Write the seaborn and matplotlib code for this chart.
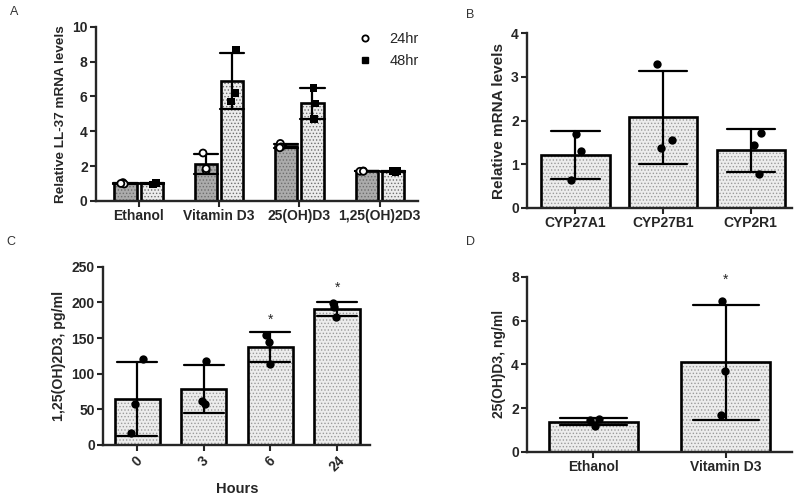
import numpy as np
import pandas as pd
import seaborn as sns
import matplotlib.pyplot as plt
import matplotlib.colors as mcolors
from matplotlib.lines import Line2D

# panel A: LL-37 mRNA, three replicates per group
a_groups = ['Ethanol', 'Vitamin D3', '25(OH)D3', '1,25(OH)2D3']
a_times = ['24hr', '48hr']
a_24 = [[1.05, 0.97, 1.0], [2.75, 1.75, 1.85], [3.3, 3.1, 3.05], [1.72, 1.7, 1.7]]
a_48 = [[1.05, 0.95, 1.0], [8.7, 5.7, 6.2], [6.5, 5.6, 4.7], [1.7, 1.65, 1.72]]

# panel B: CYP genes
b_genes = ['CYP27A1', 'CYP27B1', 'CYP2R1']
b_vals = [[1.7, 1.3, 0.63], [3.3, 1.38, 1.55], [1.72, 1.45, 0.77]]

# panel C: 1,25(OH)2D3 over time
c_hours = ['0', '3', '6', '24']
c_vals = [[120, 57, 17], [118, 57, 62], [155, 144, 114], [199, 194, 180]]
c_star = [None, None, 175, 220]

# panel D: 25(OH)D3
d_groups = ['Ethanol', 'Vitamin D3']
d_vals = [[1.5, 1.2, 1.45], [6.9, 3.7, 1.7]]
d_star = [None, 7.85]


def long_df(cats, vals, col='cat'):
    rows = []
    for c, vs in zip(cats, vals):
        for v in vs:
            rows.append({col: c, 'value': v})
    return pd.DataFrame(rows)


def stipple(ax, dots):
    # dotted fill like the original prism bars
    for p in ax.patches:
        p.set_hatch('.....')
        if hasattr(p, 'set_hatchcolor'):
            p.set_hatchcolor(dots)
        else:
            p._hatch_color = mcolors.to_rgba(dots)


dfa = pd.concat([long_df(a_groups, a_24, 'group').assign(time='24hr'),
                 long_df(a_groups, a_48, 'group').assign(time='48hr')])
dfb = long_df(b_genes, b_vals)
dfc = long_df(c_hours, c_vals)
dfd = long_df(d_groups, d_vals)

sns.set_style('ticks')
plt.rcParams['font.family'] = ['Liberation Sans', 'DejaVu Sans']
plt.rcParams['font.weight'] = 'bold'
plt.rcParams['axes.linewidth'] = 1.7
plt.rcParams['xtick.major.width'] = 1.5
plt.rcParams['ytick.major.width'] = 1.5
plt.rcParams['xtick.major.size'] = 4
plt.rcParams['ytick.major.size'] = 4
plt.rcParams['hatch.linewidth'] = 0.6

np.random.seed(3)
fig = plt.figure(figsize=(8, 4.96), dpi=100)
axA = fig.add_axes([0.12, 0.595, 0.402, 0.351])
axB = fig.add_axes([0.659, 0.581, 0.331, 0.352])
axC = fig.add_axes([0.129, 0.103, 0.334, 0.359])
axD = fig.add_axes([0.659, 0.089, 0.331, 0.353])

bar_kw = dict(edgecolor='black', linewidth=1.9, errorbar='sd',
              err_kws={'color': 'black', 'linewidth': 1.6})
light = '#ececec'

# A
sns.barplot(data=dfa, x='group', y='value', hue='time', order=a_groups, hue_order=a_times,
            palette={'24hr': '#ababab', '48hr': '#ececec'}, width=0.65, gap=0.15,
            capsize=0.6, legend=False, ax=axA, **bar_kw)
stipple(axA, '#6e6e6e')
sns.stripplot(data=dfa[dfa.time == '24hr'], x='group', y='value', hue='time', order=a_groups,
              hue_order=a_times, palette={'24hr': 'white', '48hr': 'black'}, dodge=True,
              jitter=0.1, marker='o', size=5, linewidth=1.3, edgecolor='black',
              legend=False, ax=axA)
sns.stripplot(data=dfa[dfa.time == '48hr'], x='group', y='value', hue='time', order=a_groups,
              hue_order=a_times, palette={'24hr': 'white', '48hr': 'black'}, dodge=True,
              jitter=0.1, marker='s', size=5.5, linewidth=0, legend=False, ax=axA)
axA.set_ylim(0, 10)
axA.set_yticks(range(0, 11, 2))
axA.set_xlim(-0.53, 3.47)
axA.set_ylabel('Relative LL-37 mRNA levels', fontsize=9.7, fontweight='bold')
handles = [Line2D([], [], marker='o', ls='', mfc='white', mec='black', mew=1.3, ms=4.5),
           Line2D([], [], marker='s', ls='', mfc='black', mec='black', ms=4.5)]
leg = axA.legend(handles, a_times, loc='upper right', bbox_to_anchor=(1.045, 1.045),
                 frameon=False, fontsize=10.5, handletextpad=0.7, labelspacing=0.55)
for t in leg.get_texts():
    t.set_fontweight('normal')

# B
sns.barplot(data=dfb, x='cat', y='value', order=b_genes, color=light, width=0.78,
            capsize=0.55, ax=axB, **bar_kw)
stipple(axB, '#9a9a9a')
sns.stripplot(data=dfb, x='cat', y='value', order=b_genes, color='black', jitter=0.12,
              size=6, ax=axB)
axB.set_ylim(0, 4)
axB.set_yticks(range(0, 5))
axB.set_xlim(-0.55, 2.47)
axB.set_ylabel('Relative mRNA levels', fontsize=11, fontweight='bold')

# C
sns.barplot(data=dfc, x='cat', y='value', order=c_hours, color=light, width=0.68,
            capsize=0.6, ax=axC, **bar_kw)
stipple(axC, '#9a9a9a')
sns.stripplot(data=dfc, x='cat', y='value', order=c_hours, color='black', jitter=0.12,
              size=6, ax=axC)
for i, s in enumerate(c_star):
    if s is not None:
        axC.text(i, s, '*', ha='center', va='center', fontsize=10, fontweight='normal')
axC.set_ylim(0, 250)
axC.set_yticks(range(0, 251, 50))
axC.set_xlim(-0.51, 3.5)
axC.set_ylabel('1,25(OH)2D3, pg/ml', fontsize=10.2, fontweight='bold')
axC.set_xlabel('Hours', fontsize=10.5, fontweight='bold', labelpad=6)
axC.tick_params(axis='x', rotation=45)

# D
sns.barplot(data=dfd, x='cat', y='value', order=d_groups, color=light, width=0.67,
            capsize=0.5, ax=axD, **bar_kw)
stipple(axD, '#9a9a9a')
sns.stripplot(data=dfd, x='cat', y='value', order=d_groups, color='black', jitter=0.06,
              size=6, ax=axD)
for i, s in enumerate(d_star):
    if s is not None:
        axD.text(i, s, '*', ha='center', va='center', fontsize=10, fontweight='normal')
axD.set_ylim(0, 8)
axD.set_yticks(range(0, 9, 2))
axD.set_xlim(-0.5, 1.5)
axD.set_ylabel('25(OH)D3, ng/ml', fontsize=10, fontweight='bold')

for ax in [axA, axB, axD]:
    ax.set_xlabel('')
for ax in [axA, axB, axC, axD]:
    sns.despine(ax=ax)
    ax.tick_params(labelsize=10, pad=2)
    for lab in ax.get_xticklabels() + ax.get_yticklabels():
        lab.set_fontweight('bold')

for lbl, x, y in [('A', 0.012, 0.976), ('B', 0.583, 0.97), ('C', 0.008, 0.512), ('D', 0.583, 0.512)]:
    fig.text(x, y, lbl, fontsize=9, fontweight='normal', color='#333333', va='center')

fig.savefig('out.png', dpi=100)
